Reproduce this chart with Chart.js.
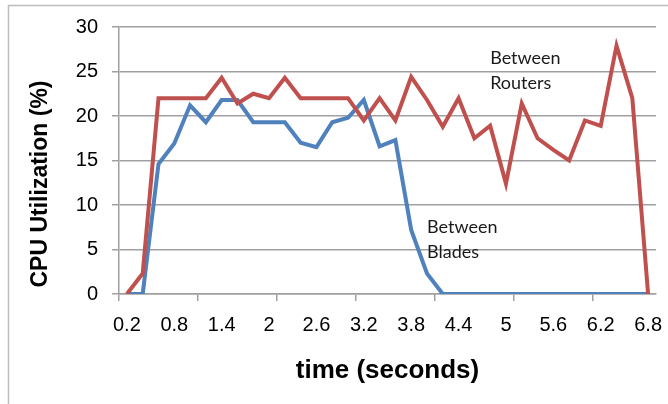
<!DOCTYPE html>
<html>
<head>
<meta charset="utf-8">
<script src="https://cdn.jsdelivr.net/npm/chart.js@4/dist/chart.umd.min.js"></script>
<style>
  html, body { margin: 0; padding: 0; background: #fff; }
  #wrap { width: 668px; height: 404px; position: relative; }
</style>
</head>
<body>
<div id="wrap"><canvas id="cpuChart"></canvas></div>
<script>
// time axis (seconds), one sample every 0.2 s
const times = ['0.2', '0.4', '0.6', '0.8', '1', '1.2', '1.4', '1.6', '1.8', '2',
  '2.2', '2.4', '2.6', '2.8', '3', '3.2', '3.4', '3.6', '3.8', '4',
  '4.2', '4.4', '4.6', '4.8', '5', '5.2', '5.4', '5.6', '5.8', '6',
  '6.2', '6.4', '6.6', '6.8'];

// CPU utilization (%)
const betweenRouters = [0, 2.3, 22, 22, 22, 22, 24.3, 21.4, 22.5, 22,
  24.3, 22, 22, 22, 22, 19.5, 22, 19.5, 24.4, 21.8,
  18.8, 22, 17.5, 18.9, 12.4, 21.4, 17.5, 16.2, 15, 19.5,
  18.9, 27.9, 22, 0];
const betweenBlades = [0, 0, 14.6, 16.9, 21.2, 19.3, 21.8, 21.8, 19.3, 19.3,
  19.3, 17, 16.5, 19.3, 19.8, 21.8, 16.6, 17.3, 7.2, 2.3,
  0, 0, 0, 0, 0, 0, 0, 0, 0, 0,
  0, 0, 0, 0];

// only every third time is labelled
const labelledTimes = ['0.2', '0.8', '1.4', '2', '2.6', '3.2', '3.8', '4.4', '5', '5.6', '6.2', '6.8'];
const yTicks = [0, 5, 10, 15, 20, 25, 30];
const yTitle = 'CPU Utilization (%)';

// text placed beside each curve: [time, value, lines]
const curveNotes = [
  ['4.8', 26.5, ['Between', 'Routers']],
  ['4', 7.5, ['Between', 'Blades']]
];

const gridGray = '#a0a0a0';

// white page with the thin frame round the chart, plus the y title
const framePlugin = {
  id: 'frame',
  beforeDraw(chart) {
    const ctx = chart.ctx;
    ctx.save();
    ctx.fillStyle = '#fff';
    ctx.fillRect(0, 0, chart.width, chart.height);
    ctx.strokeStyle = '#bdbdbd';
    ctx.lineWidth = 1.5;
    ctx.beginPath();
    ctx.moveTo(8.5, chart.height);
    ctx.lineTo(8.5, 5.5);
    ctx.lineTo(chart.width, 5.5);
    ctx.stroke();
    ctx.restore();
  },
  afterDraw(chart) {
    const ctx = chart.ctx;
    ctx.save();
    ctx.translate(41, 184);
    ctx.rotate(-Math.PI / 2);
    ctx.font = 'bold 23px "Liberation Sans"';
    ctx.fillStyle = '#000';
    ctx.textAlign = 'center';
    ctx.textBaseline = 'middle';
    ctx.fillText(yTitle, 0, 0);
    ctx.restore();
  }
};

// the "Between ..." notes next to the lines
const notesPlugin = {
  id: 'notes',
  afterDatasetsDraw(chart) {
    const ctx = chart.ctx;
    const x = chart.scales.x, y = chart.scales.y;
    ctx.save();
    ctx.font = '18px Lato';
    ctx.fillStyle = '#1a1a1a';
    ctx.textBaseline = 'middle';
    ctx.textAlign = 'left';
    curveNotes.forEach(note => {
      const px = x.getPixelForValue(times.indexOf(note[0]));
      const py = y.getPixelForValue(note[1]);
      note[2].forEach((line, k) => ctx.fillText(line, px, py + k * 25));
    });
    ctx.restore();
  }
};

new Chart(document.getElementById('cpuChart'), {
  type: 'line',
  data: {
    labels: times,
    datasets: [
      {
        label: 'Between Routers',
        data: betweenRouters,
        borderColor: '#c0504d',
        borderWidth: 4,
        pointRadius: 0,
        tension: 0,
        clip: 0
      },
      {
        label: 'Between Blades',
        data: betweenBlades,
        borderColor: '#4f81bd',
        borderWidth: 4,
        pointRadius: 0,
        tension: 0,
        clip: 0
      }
    ]
  },
  options: {
    responsive: true,
    maintainAspectRatio: false,
    animation: false,
    devicePixelRatio: 1,
    layout: { padding: { top: 27, right: 12, left: 0, bottom: 0 } },
    plugins: { legend: { display: false }, tooltip: { enabled: false } },
    scales: {
      x: {
        type: 'category',
        offset: true,
        grid: {
          offset: true,
          drawOnChartArea: false,
          tickLength: 7,
          lineWidth: 1.5,
          tickColor: ctx => (ctx.index % 5 === 0 ? gridGray : 'rgba(0,0,0,0)')
        },
        border: { color: gridGray, width: 1.5 },
        ticks: {
          autoSkip: false,
          maxRotation: 0,
          padding: 12,
          color: '#000',
          font: { family: 'Liberation Sans', size: 20 },
          callback: function (v) {
            const t = this.getLabelForValue(v);
            return labelledTimes.includes(t) ? t : '';
          }
        },
        title: {
          display: true,
          text: 'time (seconds)',
          color: '#000',
          font: { family: 'Liberation Sans', size: 26, weight: 'bold' },
          padding: { top: 4, bottom: 18 }
        },
        afterFit: s => {
          s.height = 110;
          s.paddingLeft = 0;
          s.paddingRight = 0;
        }
      },
      y: {
        min: 0,
        max: 30,
        afterBuildTicks: s => { s.ticks = yTicks.map(v => ({ value: v })); },
        grid: { color: gridGray, lineWidth: 1.5, tickLength: 7 },
        border: { color: gridGray, width: 1.5 },
        ticks: {
          padding: 14,
          color: '#000',
          font: { family: 'Liberation Sans', size: 20 }
        },
        afterFit: s => { s.width = 119; }
      }
    }
  },
  plugins: [framePlugin, notesPlugin]
});
</script>
</body>
</html>
